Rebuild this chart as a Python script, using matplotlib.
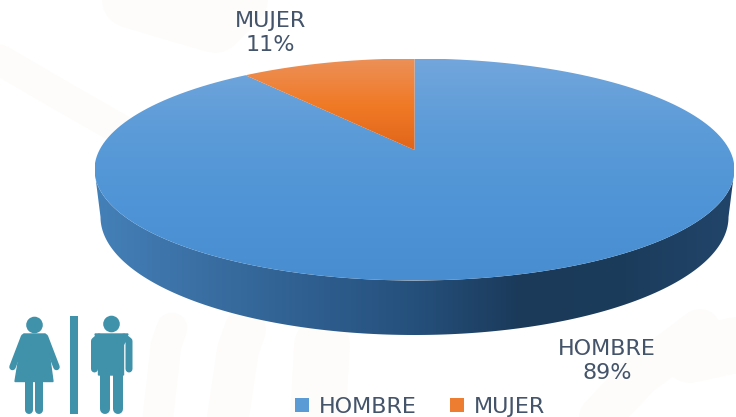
import numpy as np
import matplotlib
matplotlib.use('Agg')
import matplotlib.pyplot as plt
from matplotlib.colors import LinearSegmentedColormap
from matplotlib.patches import Polygon, Circle, Patch

categories = ['HOMBRE', 'MUJER']
values = [89, 11]
colors = ['#5b9bd5', '#ed7d31']

plt.rcParams['font.family'] = ['DejaVu Sans']
textColor = '#44546a'
iconColor = '#3f92aa'
markColor = '#fdfcfa'
labelSize = 16

fig = plt.figure(figsize=(7.36, 4.17), dpi=100)
ax = fig.add_axes([0, 0, 1, 1])

# pixel coordinates, same as the reference
cx, cy, rx, ry = 414.5, 169.5, 320, 111
apex = (414.5, 150)
warp = 0.805   # perspective squeezes the angle near the back


def ellipsePts(t0, t1, n=200, c=(cx, cy), r=(rx, ry)):
	t = np.radians(np.linspace(t0, t1, n))
	return np.column_stack([c[0] + r[0]*np.sin(t), c[1] - r[1]*np.cos(t)])


def gradient(path, stops, extent, horizontal=False, zorder=2):
	cmap = LinearSegmentedColormap.from_list('g', stops)
	g = np.linspace(0, 1, 256)
	g = g.reshape(1, -1) if horizontal else g.reshape(-1, 1)
	im = ax.imshow(g, cmap=cmap, extent=extent, aspect='auto', zorder=zorder, interpolation='bilinear')
	p = Polygon(path, closed=True, transform=ax.transData, fc='none', ec='none')
	ax.add_patch(p)
	im.set_clip_path(p)


def limb(xs, ys, w):
	ax.plot(xs, ys, color=iconColor, lw=w*0.72, solid_capstyle='round', solid_joinstyle='round', zorder=5)


# faint watermark behind the chart
for xs, ys, w in [([158, 166, 172], [417, 345, 328], 22), ([228, 238, 245], [417, 350, 330], 30),
		([318, 322], [417, 345], 40), ([0, 60, 130], [60, 95, 135], 22),
		([600, 640, 700], [417, 375, 330], 30), ([690, 736], [355, 345], 40),
		([130, 180, 215, 240], [0, 15, 25, 0], 40)]:
	ax.plot(xs, ys, color=markColor, lw=w, solid_capstyle='round', zorder=1)

# side wall of the disc
lowC = (414.5, 217)
lowR = (314, 118)
front = ellipsePts(90, 270, c=lowC, r=lowR)
side = np.vstack([ellipsePts(90, 270), front[::-1]])
gradient(side, ['#4480b8', '#3a6fa3', '#2f5f90', '#25507c', '#1b3a5a', '#1c3c5c', '#21456a'],
	(95, 734, 340, 160), horizontal=True)

# top face, wedges come from the values
split = 360 * values[1] / sum(values) * warp
hombre = np.vstack([[apex], ellipsePts(0, 360 - split)])
mujer = np.vstack([[apex], ellipsePts(360 - split, 360)])
gradient(hombre, ['#72a6dc', '#5b9bd8', '#4f94d6', '#478dd0'], (95, 734, 280, 59), zorder=3)
gradient(mujer, ['#ec9058', '#f07a26', '#e2651a'], (245, 415, 150, 59), zorder=4)

# data labels
ax.text(270.5, 33, f'{categories[1]}\n{values[1]}%', ha='center', va='center', fontsize=labelSize,
	color=textColor, linespacing=1.2, zorder=5)
ax.text(607, 361, f'{categories[0]}\n{values[0]}%', ha='center', va='center', fontsize=labelSize,
	color=textColor, linespacing=1.2, zorder=5)

# icon, woman
ax.add_patch(Circle((34.5, 325), 8.3, fc=iconColor, zorder=5))
ax.add_patch(Polygon([[24, 334], [45, 334], [48, 345], [53, 381.5], [15, 381.5], [21, 345]], closed=True,
	fc=iconColor, ec=iconColor, lw=1, zorder=5))
limb([24, 12.5], [337, 367], 6.5)
limb([45, 56.5], [337, 367], 6.5)
limb([29, 29], [378, 410], 8)
limb([39, 39], [378, 410], 8)
# bar
ax.plot([73.5, 73.5], [316, 414], color=iconColor, lw=8*0.72, solid_capstyle='butt', zorder=5)
# man
ax.add_patch(Circle((111.5, 324), 8.3, fc=iconColor, zorder=5))
ax.add_patch(Polygon([[95, 334], [128, 334], [123.5, 345], [123.5, 375], [98.5, 375], [98.5, 345]], closed=True,
	fc=iconColor, ec=iconColor, lw=1, zorder=5))
limb([94.5, 94.5, 99], [369, 341, 337], 7)
limb([129, 129, 124], [369, 341, 337], 7)
limb([105, 105], [372, 409], 10)
limb([117.5, 117.5], [372, 409], 10)

handles = [Patch(fc=colors[0], ec='none'), Patch(fc=colors[1], ec='none')]
leg = ax.legend(handles, categories, loc='center', bbox_to_anchor=(420/736, 1 - 407/417), ncol=2, frameon=False,
	fontsize=labelSize, handlelength=0.63, handleheight=0.63, handletextpad=0.45, columnspacing=1.5,
	labelcolor=textColor, borderpad=0)
leg.set_zorder(6)

ax.set_xlim(0, 736)
ax.set_ylim(417, 0)
ax.axis('off')
fig.savefig('out.png', dpi=100)
